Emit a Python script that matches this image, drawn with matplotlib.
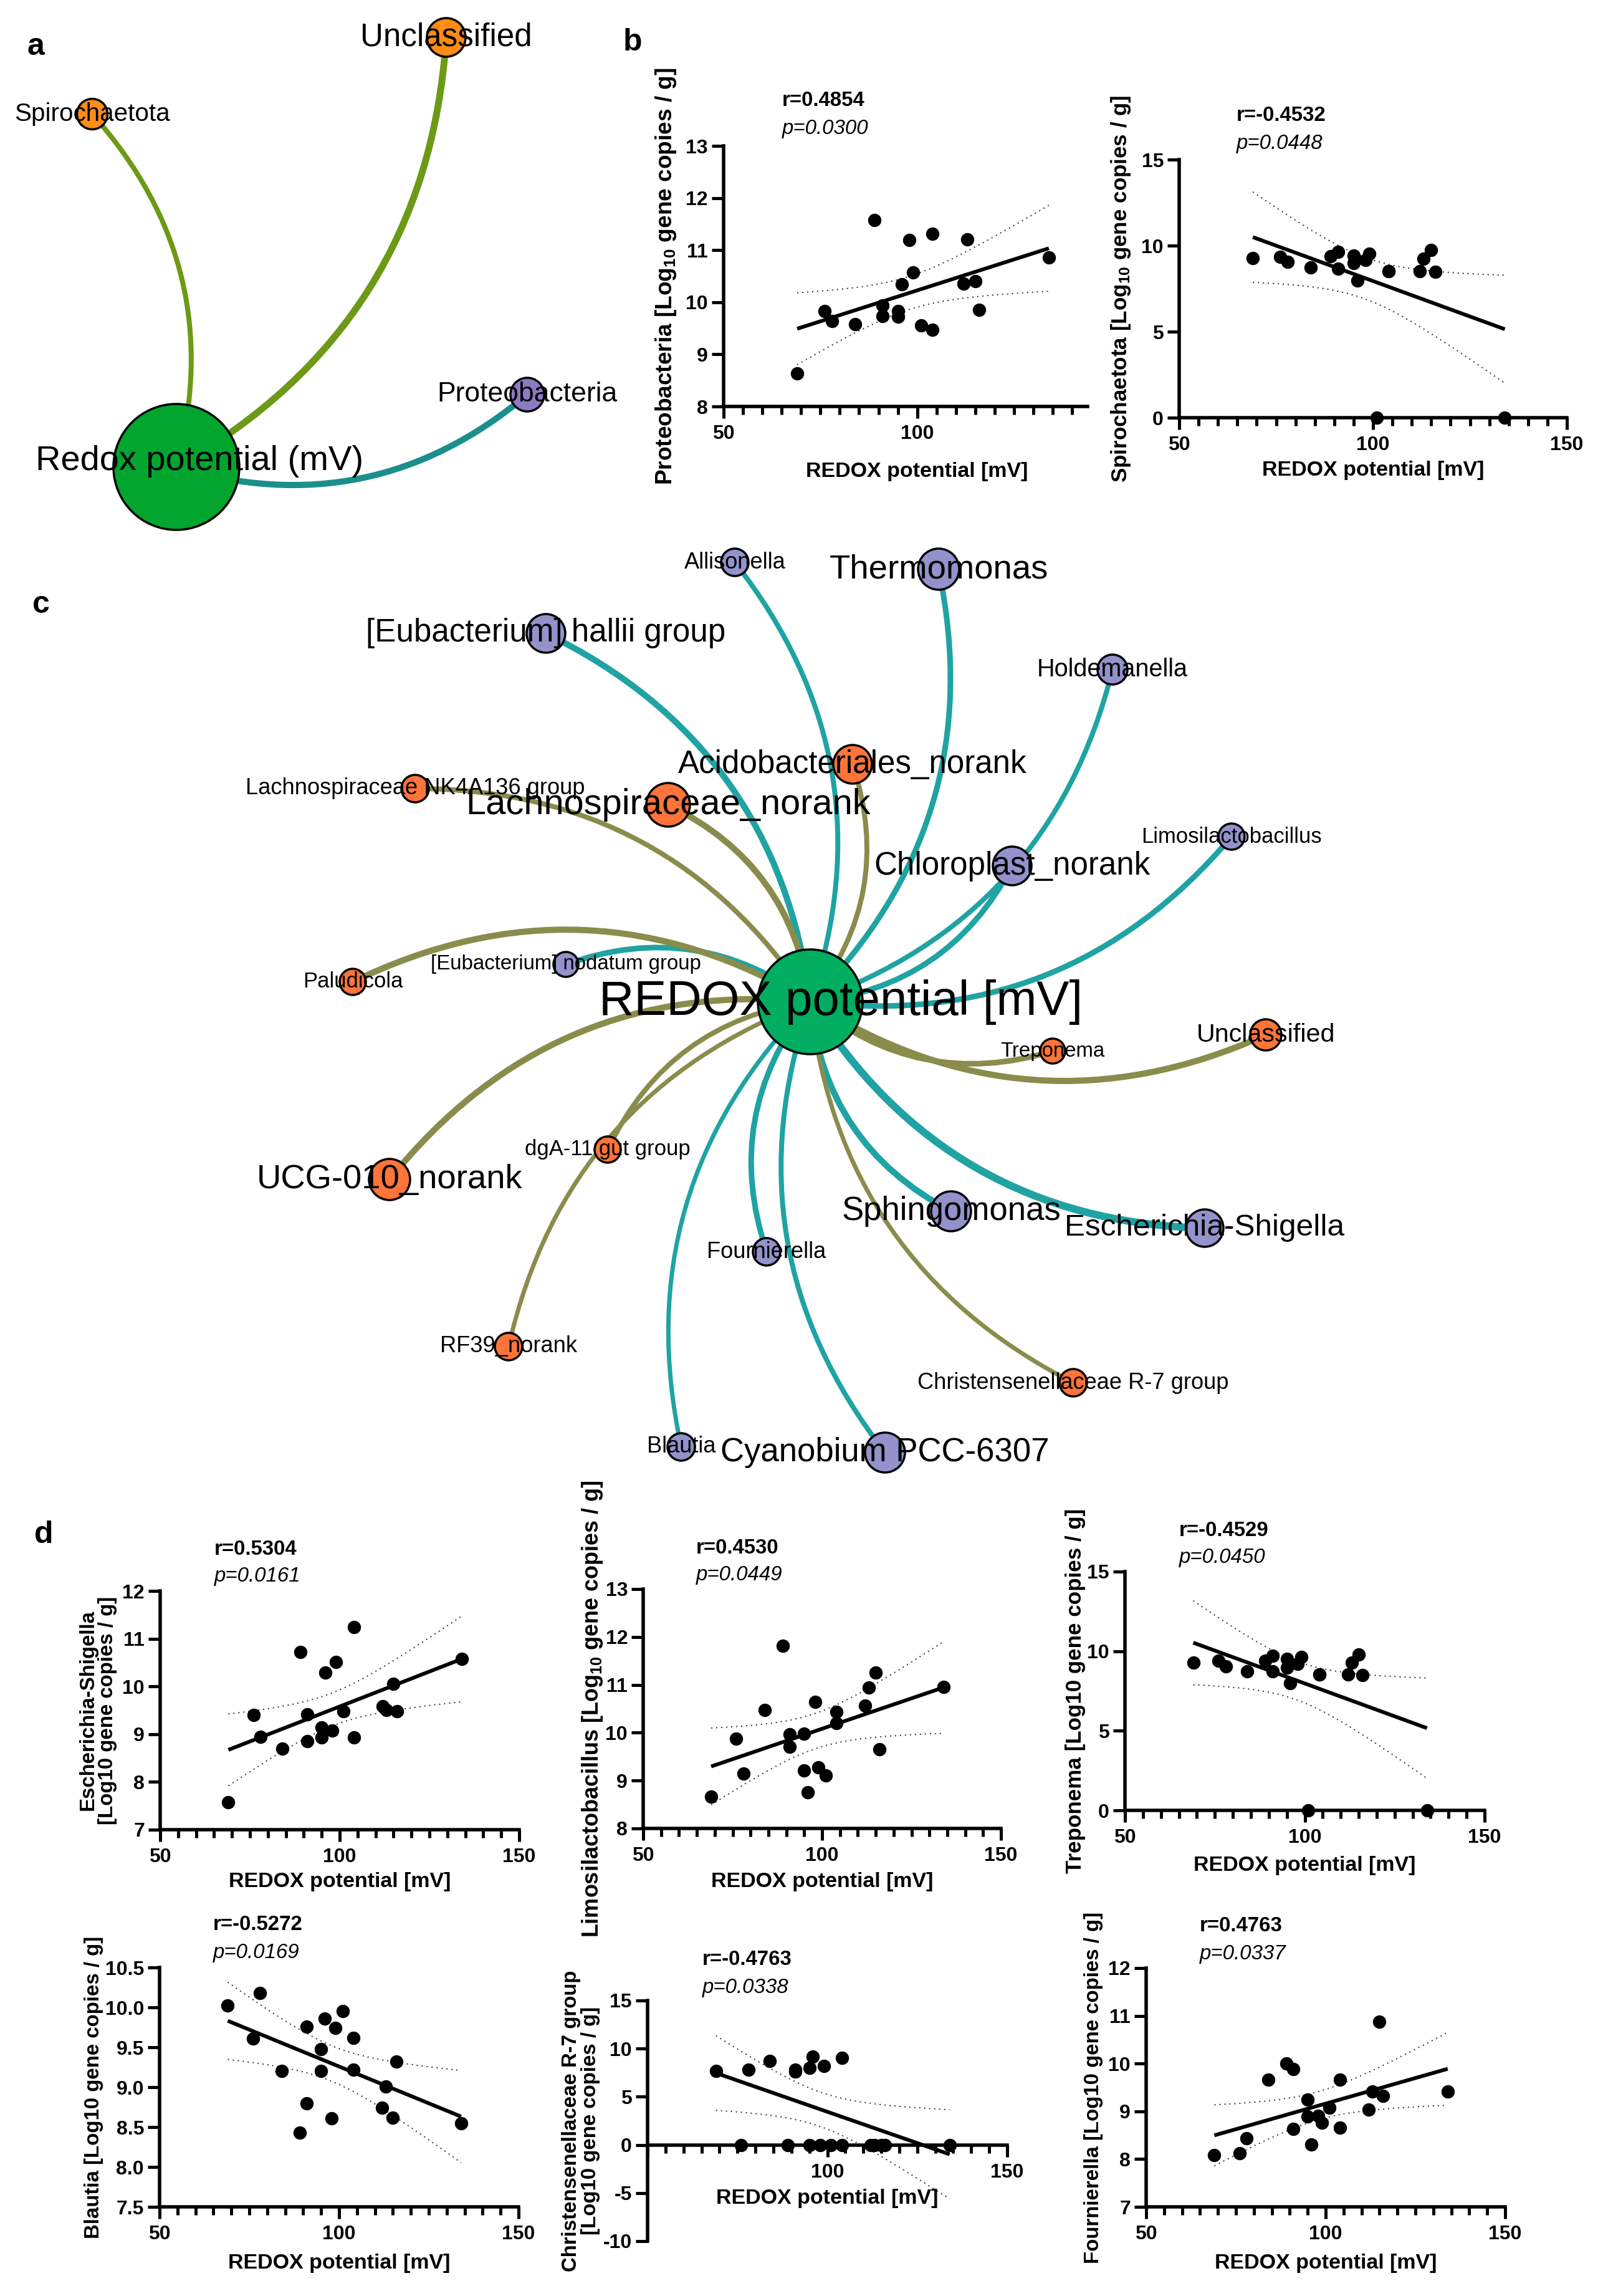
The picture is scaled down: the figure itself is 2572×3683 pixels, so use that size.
import matplotlib
matplotlib.use("Agg")
import matplotlib.pyplot as plt
import numpy as np
from matplotlib.patches import Circle, PathPatch
from matplotlib.path import Path
from matplotlib.ticker import MultipleLocator, FixedLocator

W, H = 2572, 3683
DPI = 100

# ---------------- data ----------------
# REDOX potential of the 20 samples (mV)
redox = [69, 76, 78, 84, 89, 91, 91, 95, 95, 96, 98, 99, 101, 104, 104, 112, 113, 115, 116, 134]

proteobacteria = [8.63, 9.83, 9.64, 9.58, 11.58, 9.94, 9.73, 9.83, 9.72, 10.34,
                  11.19, 10.57, 9.55, 11.31, 9.47, 10.36, 11.20, 10.41, 9.86, 10.86]
spirochaetota = [9.26, 9.34, 9.05, 8.72, 9.40, 9.64, 8.67, 9.42, 8.97, 7.96,
                 9.16, 9.53, 0.0, 8.51, 8.51, 8.51, 9.24, 9.74, 8.48, 0.0]
escherichia = [7.58, 9.40, 8.94, 8.70, 10.72, 9.42, 8.86, 9.14, 8.93, 10.29,
               9.07, 10.51, 9.48, 11.24, 8.93, 9.59, 9.51, 10.05, 9.48, 10.58]
limosilactobacillus = [8.66, 9.88, 9.14, 10.47, 11.82, 9.97, 9.70, 9.98, 9.21, 8.76,
                       10.64, 9.28, 9.11, 10.43, 10.20, 10.56, 10.94, 11.26, 9.66, 10.96]
treponema = [9.30, 9.38, 9.06, 8.74, 9.41, 9.70, 8.74, 9.50, 8.95, 7.97,
             9.22, 9.62, 0.0, 8.53, 8.53, 8.53, 9.30, 9.78, 8.50, 0.0]
blautia = [10.02, 9.61, 10.18, 9.20, 8.43, 9.76, 8.80, 9.48, 9.20, 9.86,
           8.61, 9.74, 9.95, 9.62, 9.22, 8.74, 9.01, 8.62, 9.32, 8.55]
christensenellaceae = [7.70, 0.0, 7.78, 8.75, 0.0, 7.83, 7.60, 7.99, 0.0, 9.14,
                       0.0, 8.17, 0.0, 9.01, 0.0, 0.0, 0.0, 0.0, 0.0, 0.0]
fournierella = [8.09, 8.12, 8.44, 9.66, 10.00, 9.89, 8.63, 9.24, 8.89, 8.31,
                8.90, 8.76, 9.07, 9.66, 8.66, 9.04, 9.41, 10.88, 9.32, 9.41]

# panel a network (phylum level)
a_names = ['Unclassified', 'Spirochaetota', 'Proteobacteria']
a_x = [716, 148, 846]
a_y = [60, 183, 633]
a_size = [31, 24.5, 27]
a_sign = ['-', '-', '+']
a_weight = [11, 8, 10]

# panel c network (genus level)
c_names = ['Allisonella', 'Thermomonas', '[Eubacterium] hallii group', 'Holdemanella',
           'Acidobacteriales_norank', 'Lachnospiraceae NK4A136 group', 'Lachnospiraceae_norank',
           'Chloroplast_norank', 'Limosilactobacillus', '[Eubacterium] nodatum group',
           'Paludicola', 'Unclassified', 'Treponema', 'dgA-11 gut group', 'UCG-010_norank',
           'Sphingomonas', 'Escherichia-Shigella', 'Fournierella', 'RF39_norank',
           'Christensenellaceae R-7 group', 'Blautia', 'Cyanobium PCC-6307']
c_x = [1179, 1506, 876, 1785, 1368, 666, 1072, 1624, 1976, 908, 566, 2031, 1689, 975,
       625, 1526, 1933, 1230, 816, 1722, 1093, 1420]
c_y = [902, 913, 1016, 1074, 1226, 1265, 1291, 1389, 1342, 1547, 1575, 1660, 1686, 1844,
       1892, 1943, 1970, 2008, 2160, 2218, 2321, 2330]
c_size = [22, 33, 31, 24, 31, 22, 35, 31, 21, 20, 21, 25, 20, 21, 33, 32, 30, 22, 22, 22, 22, 32]
c_sign = ['+', '+', '+', '+', '-', '-', '-', '+', '+', '+', '-', '-', '-', '-', '-',
          '+', '+', '+', '-', '-', '+', '+']
c_weight = [8, 9, 10, 8, 8, 8, 10, 9, 9, 9, 10, 10, 9, 8, 10, 10, 12, 9, 7, 7, 7, 8]


def pt(px):
    return px * 72.0 / DPI


NARROW = ['Liberation Sans Narrow', 'Liberation Sans', 'DejaVu Sans']
REG = ['Liberation Sans', 'DejaVu Sans']
plt.rcParams['font.family'] = NARROW
plt.rcParams['font.weight'] = 'bold'
plt.rcParams['mathtext.fontset'] = 'custom'
plt.rcParams['mathtext.rm'] = 'Liberation Sans:bold'
plt.rcParams['mathtext.bf'] = 'Liberation Sans:bold'
plt.rcParams['mathtext.default'] = 'rm'

fig = plt.figure(figsize=(W / DPI, H / DPI), dpi=DPI)
net = fig.add_axes([0, 0, 1, 1], zorder=0)
net.set_xlim(0, W)
net.set_ylim(H, 0)
net.axis('off')

BEND = 0.27


def draw_edge(p0, p1, color, width):
    (x0, y0), (x1, y1) = p0, p1
    dx, dy = x1 - x0, y1 - y0
    cx = (x0 + x1) / 2 - BEND * dy
    cy = (y0 + y1) / 2 + BEND * dx
    path = Path([(x0, y0), (cx, cy), (x1, y1)], [Path.MOVETO, Path.CURVE3, Path.CURVE3])
    net.add_patch(PathPatch(path, fc='none', ec=color, lw=pt(width), capstyle='butt', zorder=1))


def network(hub, hub_r, hub_col, hub_label, hub_label_xy, hub_fs,
            names, xs, ys, sizes, signs, weights, pos_col, neg_col, pos_edge, neg_edge):
    for x, y, sg, w in zip(xs, ys, signs, weights):
        draw_edge(hub, (x, y), pos_edge if sg == '+' else neg_edge, w)
    net.add_patch(Circle(hub, hub_r, fc=hub_col, ec='black', lw=pt(3.5), zorder=2))
    for n, x, y, s, sg in zip(names, xs, ys, sizes, signs):
        net.add_patch(Circle((x, y), s, fc=pos_col if sg == '+' else neg_col,
                             ec='black', lw=pt(3.5), zorder=2))
        net.text(x, y, n, fontsize=pt(1.65 * s), ha='center', va='center',
                 family=REG, weight='normal', zorder=3)
    net.text(hub_label_xy[0], hub_label_xy[1], hub_label, fontsize=pt(hub_fs), ha='center',
             va='center', family=REG, weight='normal', zorder=3)


network((283, 749), 101, '#02a52d', 'Redox potential (mV)', (320, 740), 56,
        a_names, a_x, a_y, a_size, a_sign, a_weight,
        '#8c7bc2', '#ff8c14', '#1a8f8b', '#6c9a16')
network((1300, 1607), 84, '#00ad61', 'REDOX potential [mV]', (1349, 1607), 78,
        c_names, c_x, c_y, c_size, c_sign, c_weight,
        '#9492cb', '#ff7439', '#1fa3a3', '#8a8c4c')

# panel letters
for letter, (lx, ly) in zip('abcd', [(57, 75), (1015, 68), (66, 970), (70, 2462)]):
    fig.text(lx / W, 1 - ly / H, letter, fontsize=pt(50), weight='bold', family=REG,
             ha='center', va='center')

T_CRIT = 2.101  # two-sided 95 %, df = 18


def ftext(x, y, s, **kw):
    fig.text(x / W, 1 - y / H, s, **kw)


def corr_plot(box, y, ylim, ystep, ylabel, ylab_x, xlab_y, r_txt, p_txt, txt_xy,
              xmax=150, yfmt='{:.0f}', zero_axis=False, xlabels=(50, 100, 150), ylab_fs=34):
    l, t, r, b = box
    ax = fig.add_axes([l / W, 1 - b / H, (r - l) / W, (b - t) / H], zorder=2)
    x = np.array(redox, float)
    yv = np.array(y, float)
    slope, icpt = np.polyfit(x, yv, 1)
    xs = np.linspace(x.min(), x.max(), 200)
    fit = icpt + slope * xs
    n = len(x)
    s = np.sqrt(np.sum((yv - (icpt + slope * x)) ** 2) / (n - 2))
    se = s * np.sqrt(1.0 / n + (xs - x.mean()) ** 2 / np.sum((x - x.mean()) ** 2))
    ax.plot(xs, fit + T_CRIT * se, color='#333333', lw=pt(2), ls=(0, (1, 3)), zorder=2)
    ax.plot(xs, fit - T_CRIT * se, color='#333333', lw=pt(2), ls=(0, (1, 3)), zorder=2)
    ax.plot(xs, fit, color='black', lw=pt(6), solid_capstyle='butt', zorder=3)
    ax.plot(x, yv, 'o', color='black', ms=pt(20), zorder=4, clip_on=False)

    ax.set_xlim(50, xmax)
    ax.set_ylim(*ylim)
    ax.spines['top'].set_visible(False)
    ax.spines['right'].set_visible(False)
    for sp in ('left', 'bottom'):
        ax.spines[sp].set_linewidth(pt(5.5))
        ax.spines[sp].set_capstyle('projecting')
    if zero_axis:
        ax.spines['bottom'].set_position(('data', 0))
    ax.xaxis.set_major_locator(FixedLocator([50, 100, 150]))
    ax.xaxis.set_minor_locator(MultipleLocator(5))
    ax.set_xticklabels([str(v) if v in xlabels else '' for v in (50, 100, 150)])
    yt = np.arange(ylim[0], ylim[1] + ystep / 2, ystep)
    ax.set_yticks(yt)
    ax.set_yticklabels([yfmt.format(v) for v in yt])
    ax.tick_params(which='major', length=pt(19), width=pt(5), labelsize=pt(32), pad=pt(6))
    ax.tick_params(axis='x', which='major', pad=pt(10))
    ax.tick_params(axis='x', which='minor', length=pt(13), width=pt(5))
    ax.tick_params(axis='y', which='minor', length=0)
    ax.patch.set_alpha(0)

    ftext(ylab_x, (t + b) / 2, ylabel, rotation=90, ha='center', va='center',
          fontsize=pt(ylab_fs), weight='bold', linespacing=1.0, multialignment='center')
    ftext((l + l + (r - l) * 100 / (xmax - 50)) / 2, xlab_y, 'REDOX potential [mV]',
          ha='center', va='center', fontsize=pt(34), weight='bold')
    ftext(txt_xy[0], txt_xy[1], r_txt, ha='left', va='center', fontsize=pt(33),
          weight='bold', family=REG)
    ftext(txt_xy[0], txt_xy[1] + 44, p_txt, ha='left', va='center', fontsize=pt(33),
          weight='normal', style='italic', family=REG)
    return ax


LOG_SUB = ' [Log$_{10}$ gene copies / g]'
LOG = ' [Log10 gene copies / g]'

corr_plot((1161, 234, 1745, 652), proteobacteria, (8, 13), 1, 'Proteobacteria' + LOG_SUB,
          1069, 757, 'r=0.4854', 'p=0.0300', (1255, 162), xmax=144, xlabels=(50, 100),
          ylab_fs=37)
corr_plot((1892, 256, 2514, 670), spirochaetota, (0, 15), 5, 'Spirochaetota' + LOG_SUB,
          1798, 755, 'r=-0.4532', 'p=0.0448', (1984, 186), ylab_fs=35)
corr_plot((257, 2552, 833, 2935), escherichia, (7, 12), 1,
          'Escherichia-Shigella\n' + LOG.strip(), 157, 3018, 'r=0.5304', 'p=0.0161', (344, 2485),
          ylab_fs=33)
corr_plot((1032, 2549, 1606, 2933), limosilactobacillus, (8, 13), 1,
          'Limosilactobacillus' + LOG_SUB, 951, 3019, 'r=0.4530', 'p=0.0449', (1117, 2483),
          ylab_fs=36)
corr_plot((1805, 2521, 2382, 2904), treponema, (0, 15), 5, 'Treponema' + LOG,
          1725, 2993, 'r=-0.4529', 'p=0.0450', (1892, 2455), ylab_fs=35)
corr_plot((256, 3156, 832, 3540), blautia, (7.5, 10.5), 0.5, 'Blautia' + LOG,
          151, 3631, 'r=-0.5272', 'p=0.0169', (342, 3088), yfmt='{:.1f}', ylab_fs=33)
corr_plot((1039, 3209, 1616, 3595), christensenellaceae, (-10, 15), 5,
          'Christensenellaceae R-7 group\n' + LOG.strip(), 932, 3526,
          'r=-0.4763', 'p=0.0338', (1127, 3144), zero_axis=True, xlabels=(100, 150),
          ylab_fs=33)
corr_plot((1839, 3157, 2415, 3540), fournierella, (7, 12), 1, 'Fournierella' + LOG,
          1754, 3631, 'r=0.4763', 'p=0.0337', (1925, 3090), ylab_fs=33)

fig.savefig('out.png', dpi=DPI, facecolor='white')
